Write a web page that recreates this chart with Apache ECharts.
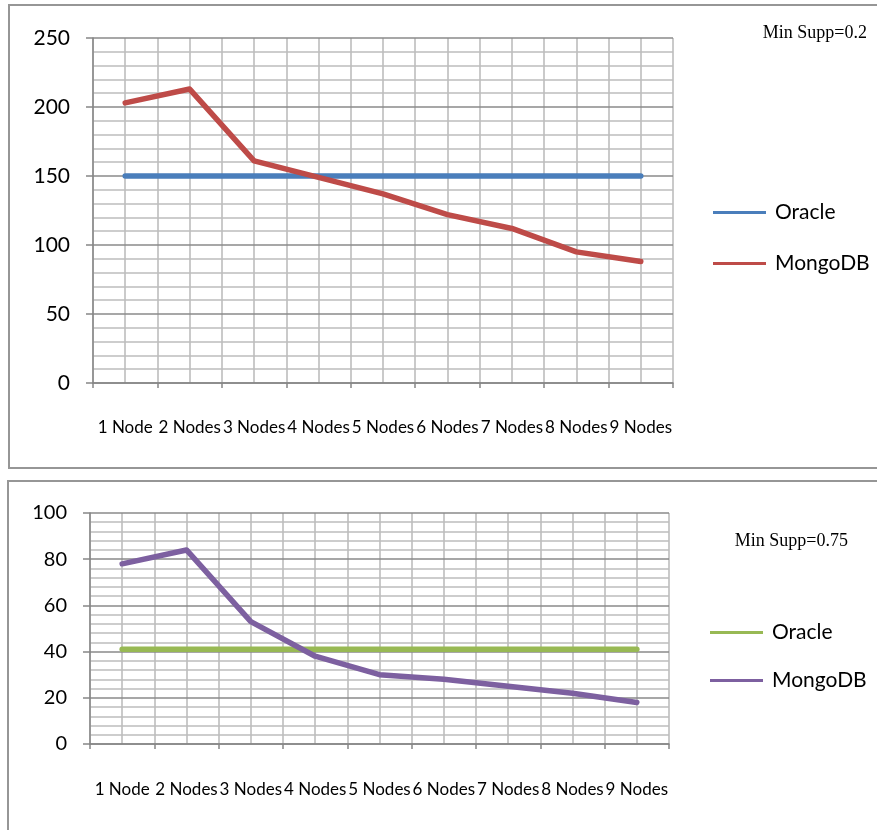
<!DOCTYPE html>
<html>
<head>
<meta charset="utf-8">
<script src="https://cdn.jsdelivr.net/npm/echarts@6/dist/echarts.min.js"></script>
<style>
  html, body { margin: 0; padding: 0; background: #fff; }
  #c1 { position: absolute; left: 0; top: 0; width: 877px; height: 475px; }
  #c2 { position: absolute; left: 0; top: 475px; width: 877px; height: 355px; }
</style>
</head>
<body>
<div id="c1"></div>
<div id="c2"></div>
<script>
const categories = ['1 Node', '2 Nodes', '3 Nodes', '4 Nodes', '5 Nodes', '6 Nodes', '7 Nodes', '8 Nodes', '9 Nodes'];
const oracleTop = [150, 150, 150, 150, 150, 150, 150, 150, 150];
const mongoTop = [203, 213, 161, 149, 137, 122, 112, 95, 88];
const oracleBottom = [41, 41, 41, 41, 41, 41, 41, 41, 41];
const mongoBottom = [78, 84, 53, 38, 30, 28, 25, 22, 18];
const topTicks = [0, 50, 100, 150, 200, 250];
const bottomTicks = [0, 20, 40, 60, 80, 100];
const topNote = 'Min Supp=0.2';
const bottomNote = 'Min Supp=0.75';

const FONT = 'Lato';

function makeOption(cfg) {
  const tickStep = cfg.ticks[1] - cfg.ticks[0];
  return {
    animation: false,
    backgroundColor: 'transparent',
    title: {
      text: cfg.note,
      right: cfg.noteRight,
      top: cfg.noteTop,
      padding: 0,
      textStyle: { fontFamily: 'Liberation Serif', fontSize: 18, fontWeight: 'normal', color: '#000' }
    },
    graphic: [{
      type: 'rect',
      shape: { x: cfg.box[0], y: cfg.box[1], width: cfg.box[2], height: cfg.box[3] },
      style: { fill: 'none', stroke: '#969696', lineWidth: 2 },
      silent: true
    }],
    legend: {
      orient: 'vertical',
      left: cfg.legendLeft,
      top: cfg.legendTop,
      itemGap: cfg.legendGap,
      itemWidth: 53,
      itemHeight: 3,
      icon: 'rect',
      padding: 0,
      textStyle: { fontFamily: FONT, fontSize: 21, color: '#000', padding: [0, 0, 0, 4] },
      data: ['Oracle', 'MongoDB']
    },
    grid: { left: cfg.grid[0], top: cfg.grid[1], width: cfg.grid[2], height: cfg.grid[3], containLabel: false },
    xAxis: [{
      type: 'category',
      data: categories,
      boundaryGap: true,
      axisLine: { show: true, lineStyle: { color: '#868686', width: 1.5 } },
      axisTick: { show: true, length: 5, lineStyle: { color: '#868686', width: 1.5 } },
      axisLabel: { interval: 0, margin: cfg.xMargin, fontFamily: FONT, fontSize: 17, color: '#000' },
      splitLine: { show: false },
      z: 3
    }, {
      type: 'value',
      min: 0,
      max: 18,
      interval: 1,
      show: true,
      axisLine: { show: false },
      axisTick: { show: false },
      axisLabel: { show: false },
      splitLine: { show: true, lineStyle: { color: '#bdbdbd', width: 1.6 } }
    }],
    yAxis: {
      type: 'value',
      min: cfg.ticks[0],
      max: cfg.ticks[cfg.ticks.length - 1],
      interval: tickStep,
      axisLine: { show: true, lineStyle: { color: '#868686', width: 1.5 } },
      axisTick: { show: true, length: 7, lineStyle: { color: '#868686', width: 1.5 } },
      axisLabel: { margin: 23, fontFamily: FONT, fontSize: cfg.yFont, color: '#000' },
      splitLine: { show: true, lineStyle: { color: '#8a8a8a', width: 1.6 } },
      minorTick: { show: false, splitNumber: 5 },
      minorSplitLine: { show: true, lineStyle: { color: '#bdbdbd', width: 1.6 } },
      z: 3
    },
    series: [{
      name: 'Oracle',
      type: 'line',
      xAxisIndex: 0,
      data: cfg.oracle,
      symbol: 'none',
      color: cfg.colors[0],
      lineStyle: { width: 5.5, cap: 'round', join: 'round', color: cfg.colors[0] },
      z: 5
    }, {
      name: 'MongoDB',
      type: 'line',
      xAxisIndex: 0,
      data: cfg.mongo,
      symbol: 'none',
      color: cfg.colors[1],
      lineStyle: { width: 5.5, cap: 'round', join: 'round', color: cfg.colors[1] },
      z: 6
    }]
  };
}

const chart1 = echarts.init(document.getElementById('c1'), null, { renderer: 'canvas' });
chart1.setOption(makeOption({
  note: topNote, noteRight: 10, noteTop: 24,
  box: [9, 5, 900, 463],
  legendLeft: 713, legendTop: 202, legendGap: 30,
  grid: [93, 38, 580, 345],
  xMargin: 36, yFont: 21,
  ticks: topTicks,
  oracle: oracleTop, mongo: mongoTop,
  colors: ['#4a7ebb', '#be4b48']
}));

const chart2 = echarts.init(document.getElementById('c2'), null, { renderer: 'canvas' });
chart2.setOption(makeOption({
  note: bottomNote, noteRight: 29, noteTop: 57,
  box: [8, 6, 900, 400],
  legendLeft: 710, legendTop: 147, legendGap: 27,
  grid: [90, 38, 579, 231],
  xMargin: 37, yFont: 20,
  ticks: bottomTicks,
  oracle: oracleBottom, mongo: mongoBottom,
  colors: ['#98b954', '#7d60a0']
}));
</script>
</body>
</html>
